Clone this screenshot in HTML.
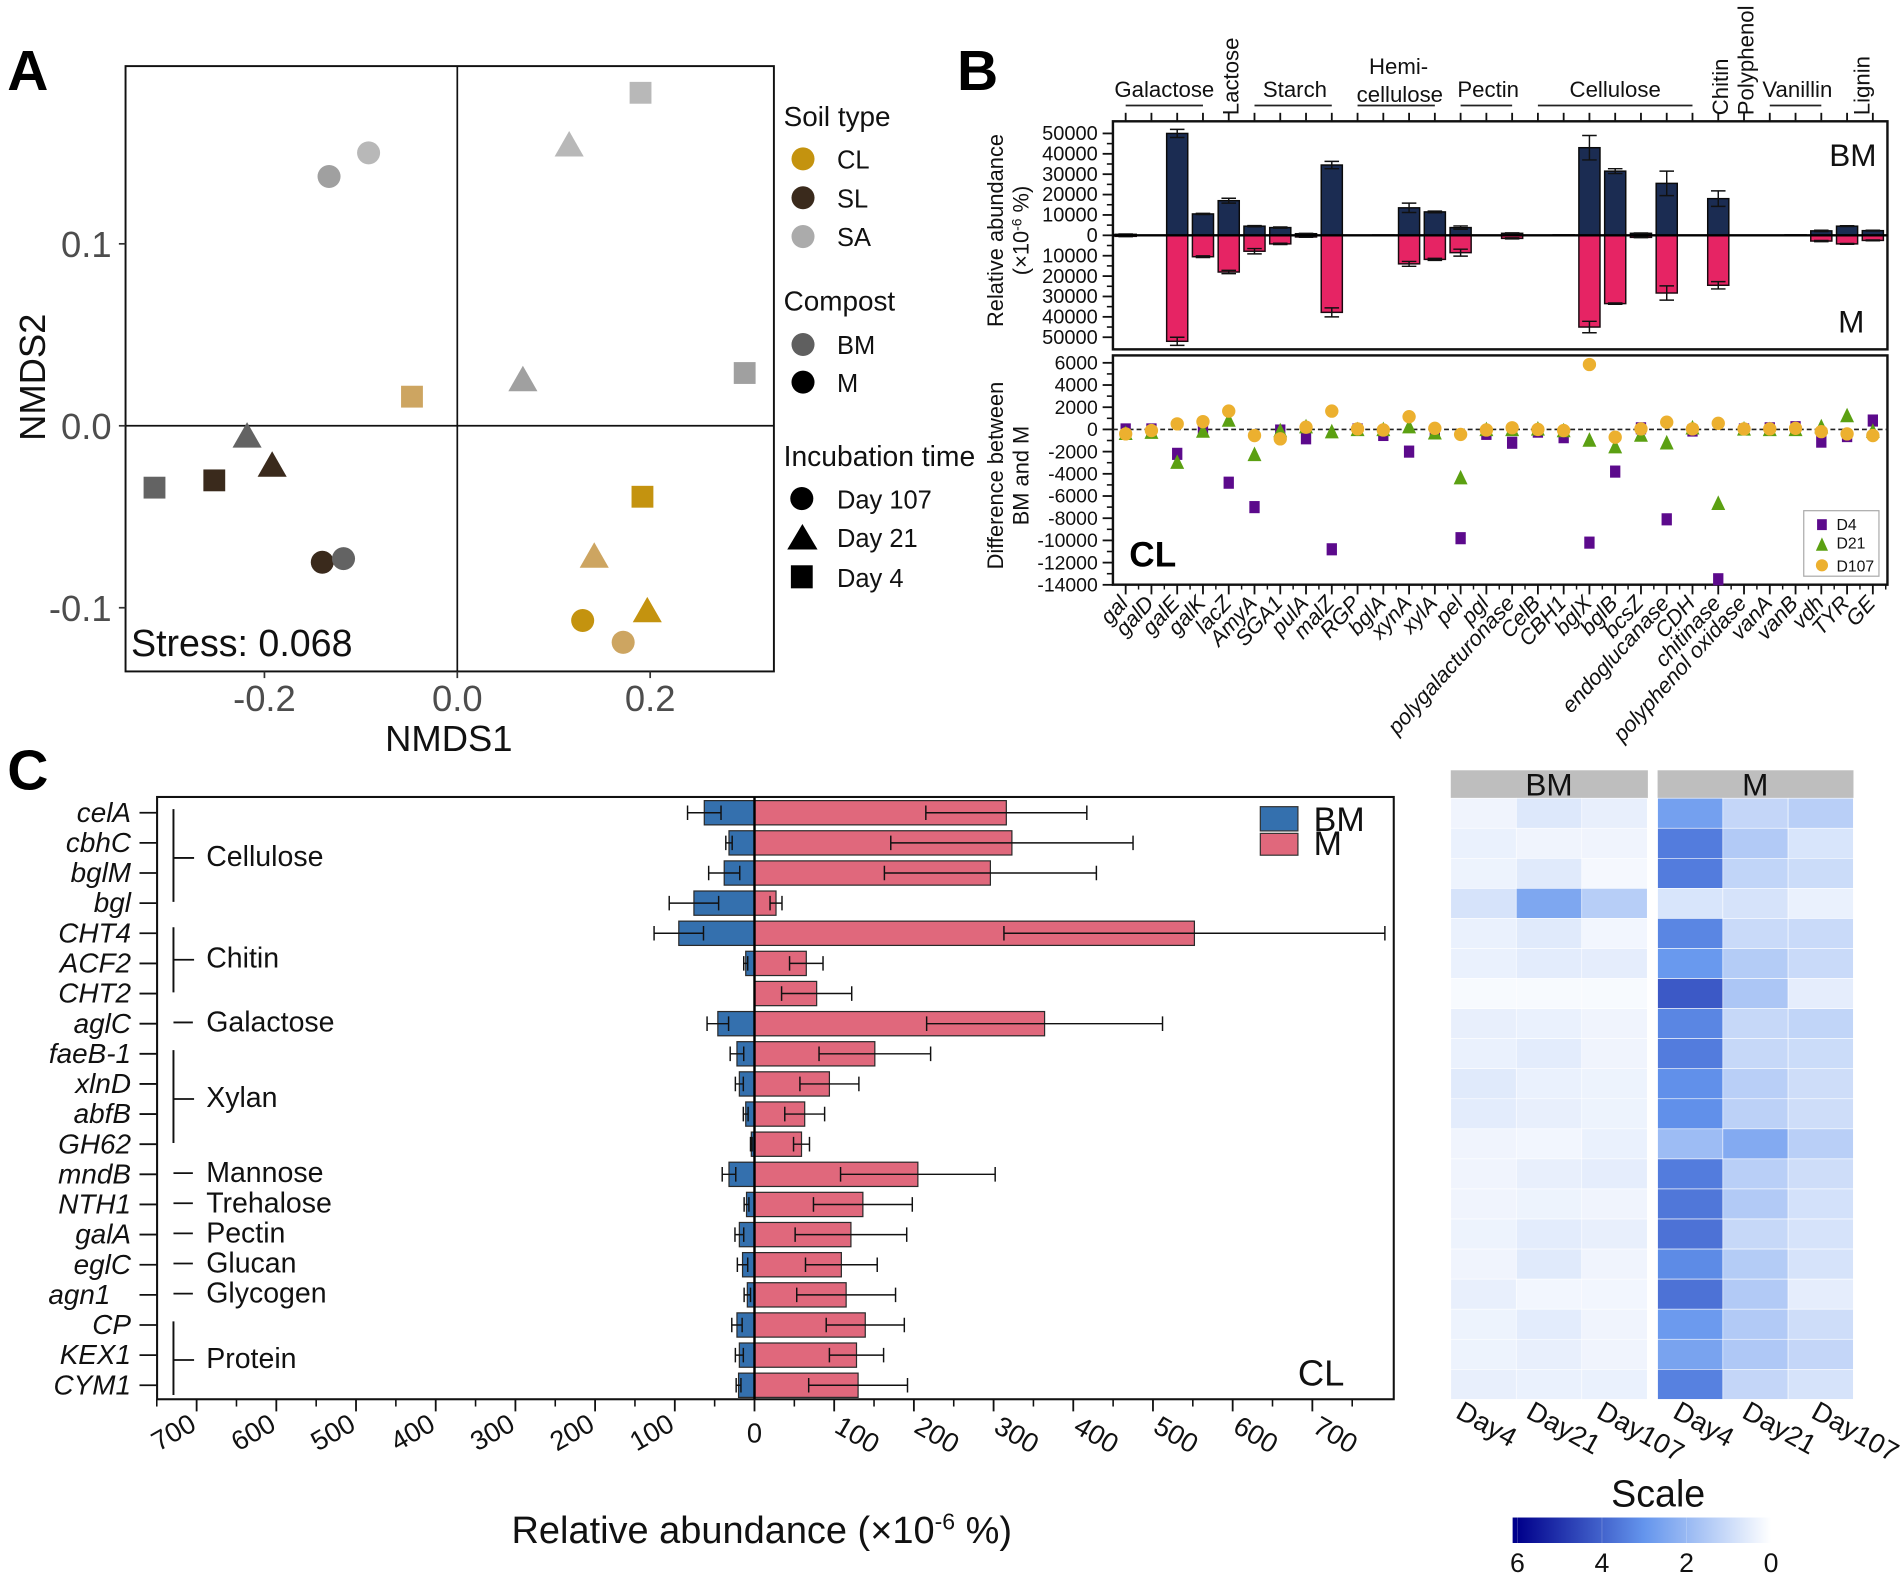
<!DOCTYPE html>
<html lang="en">
<head>
<meta charset="utf-8">
<title>Soil compost NMDS and CAZyme abundance figure</title>
<style>
html,body{margin:0;padding:0;background:#fff}
svg{display:block}
text{font-family:"Liberation Sans",Arial,sans-serif}
</style>
</head>
<body>
<svg id="fig" xmlns="http://www.w3.org/2000/svg" width="1902" height="1580" viewBox="0 0 1568 1302.5" preserveAspectRatio="none">
<defs>
<linearGradient id="scaleGrad" gradientUnits="userSpaceOnUse" x1="1251" x2="1460" y1="0" y2="0">
<stop offset="0" stop-color="#00008B"/><stop offset="0.5" stop-color="#6495ED"/><stop offset="1" stop-color="#FFFFFF"/>
</linearGradient>
</defs>
<rect x="0" y="0" width="1568" height="1302.5" fill="#fff"/>

<!-- Panel letters -->
<text x="6" y="74" font-size="47" font-weight="bold">A</text>
<text x="789" y="74" font-size="47" font-weight="bold">B</text>
<text x="6" y="651" font-size="47" font-weight="bold">C</text>

<!-- Panel A -->
<g id="panelA">
<rect x="103.5" y="54.5" width="534.5" height="499" fill="none" stroke="#111" stroke-width="1.6"/>
<text x="370" y="619" font-size="30" text-anchor="middle" fill="#111">NMDS1</text>
<text transform="translate(37,311) rotate(-90)" font-size="30" text-anchor="middle" fill="#111">NMDS2</text>
<text x="108" y="541" font-size="31" fill="#111">Stress: 0.068</text>
</g>
<g id="legendA">
<text x="646" y="104" font-size="23" fill="#111">Soil type</text>
<circle cx="662" cy="131" r="9.5" fill="#c4930f"/>
<text x="690" y="139" font-size="21" fill="#111">CL</text>
<circle cx="662" cy="163" r="9.5" fill="#3a2a1c"/>
<text x="690" y="171" font-size="21" fill="#111">SL</text>
<circle cx="662" cy="195" r="9.5" fill="#ababab"/>
<text x="690" y="203" font-size="21" fill="#111">SA</text>
<text x="646" y="256" font-size="23" fill="#111">Compost</text>
<circle cx="662" cy="284" r="9.5" fill="#5f5f5f"/>
<text x="690" y="292" font-size="21" fill="#111">BM</text>
<circle cx="662" cy="315" r="9.5" fill="#000"/>
<text x="690" y="323" font-size="21" fill="#111">M</text>
<text x="646" y="384" font-size="23.3" fill="#111">Incubation time</text>
<circle cx="661" cy="411" r="9.5" fill="#000"/>
<text x="690" y="419" font-size="21" fill="#111">Day 107</text>
<polygon points="649,453 674,453 661.5,432" fill="#000"/>
<text x="690" y="451" font-size="21" fill="#111">Day 21</text>
<rect x="652" y="466" width="18" height="19" fill="#000"/>
<text x="690" y="484" font-size="21" fill="#111">Day 4</text>
</g>

<!-- Panel B -->
<g id="panelB">
<text transform="translate(827,190) rotate(-90)" font-size="18" text-anchor="middle" fill="#111">Relative abundance</text>
<text transform="translate(848,190) rotate(-90)" font-size="18" text-anchor="middle" fill="#111">(×10<tspan dy="-6" font-size="11.5">-6</tspan><tspan dy="6"> %)</tspan></text>
<text transform="translate(827,392) rotate(-90)" font-size="18" text-anchor="middle" fill="#111">Difference between</text>
<text transform="translate(848,392) rotate(-90)" font-size="18" text-anchor="middle" fill="#111">BM and M</text>
<text x="1547" y="137" font-size="26" text-anchor="end" fill="#111">BM</text>
<text x="1537" y="274" font-size="26" text-anchor="end" fill="#111">M</text>
<text x="931" y="467" font-size="29" font-weight="bold" fill="#000">CL</text>
</g>

<!-- Panel C -->
<g id="panelC">
<text x="628" y="1272" font-size="31.3" text-anchor="middle" fill="#111">Relative abundance (×10<tspan dy="-11" font-size="19">-6</tspan><tspan dy="11"> %)</tspan></text>
<text x="1070" y="1142" font-size="30" fill="#111">CL</text>
<rect x="1039" y="665" width="31" height="20" fill="#3470ae" stroke="#333" stroke-width="1"/>
<text x="1083" y="685" font-size="28" fill="#111">BM</text>
<rect x="1039" y="687" width="31" height="18" fill="#e0687c" stroke="#333" stroke-width="1"/>
<text x="1083" y="705" font-size="28" fill="#111">M</text>
</g>

<!-- Heatmap -->
<g id="heatmap">
<rect x="1196" y="635" width="162.5" height="23" fill="#bebebe"/>
<text x="1277" y="656" font-size="26" text-anchor="middle" fill="#111">BM</text>
<rect x="1366.5" y="635" width="161.5" height="23" fill="#bebebe"/>
<text x="1447" y="656" font-size="26" text-anchor="middle" fill="#111">M</text>
<text x="1367" y="1242" font-size="31" text-anchor="middle" fill="#111">Scale</text>
<rect x="1247" y="1251" width="219" height="21" fill="url(#scaleGrad)"/>
</g>

<!-- Legend of the difference plot, placed last so it sits above the points -->
<g id="legendBTop">
<rect x="1487" y="421" width="62" height="54" fill="#fff" stroke="#aaa" stroke-width="1"/>
<rect x="1498" y="428" width="8" height="9" fill="#5c0a8c"/>
<text x="1514" y="437" font-size="13" fill="#111">D4</text>
<polygon points="1497,454 1507,454 1502,443" fill="#5ba012"/>
<text x="1514" y="452" font-size="13" fill="#111">D21</text>
<circle cx="1502" cy="466" r="5" fill="#ecb02f"/>
<text x="1514" y="471" font-size="13" fill="#111">D107</text>
</g>
</svg>

<script>
/* ---------- Panel A data ---------- */
var nmds1 = [-0.133,-0.092,0.130,0.172,-0.140,-0.118,0.116,0.068,-0.218,-0.192,0.142,0.197,0.190,0.298,-0.047,-0.314,-0.252,0.192];
var nmds2 = [0.137,0.150,-0.107,-0.119,-0.075,-0.073,0.155,0.026,-0.005,-0.021,-0.071,-0.101,0.183,0.029,0.016,-0.034,-0.030,-0.039];
var nmdsSoil = ['SA','SA','CL','CL','SL','SL','SA','SA','SL','SL','CL','CL','SA','SA','CL','SL','SL','CL'];
var nmdsCompost = ['M','BM','M','BM','M','BM','BM','M','BM','M','BM','M','BM','M','BM','BM','M','M'];
var nmdsDay = [107,107,107,107,107,107,21,21,21,21,21,21,4,4,4,4,4,4];
var nmdsXTicks = [-0.2,0,0.2];
var nmdsYTicks = [0.1,0,-0.1];

/* ---------- Panel B data ---------- */
var enzymes = ['gal','galD','galE','galK','lacZ','AmyA','SGA1','pulA','malZ','RGP','bglA','xynA','xylA','pel','pgl','polygalacturonase','CelB','CBH1','bglX','bglB','bcsZ','endoglucanase','CDH','chitinase','polyphenol oxidase','vanA','vanB','vdh','TYR','GE'];
var abundBM = [500,0,50000,10500,17000,4500,3800,800,34500,0,150,13500,11500,3800,0,1000,0,200,43000,31500,1000,25500,0,18000,0,0,200,2200,4500,2300];
var abundBMErr = [150,0,2000,300,1200,300,300,150,1800,0,0,2300,400,800,0,200,0,0,6000,1200,150,6000,0,3800,0,0,0,300,200,200];
var abundM = [500,0,52000,10500,18000,7800,4200,800,37800,0,150,14000,11800,8500,0,1500,0,200,45000,33500,1000,28300,0,24500,0,0,100,2800,4200,2500];
var abundMErr = [150,0,2000,400,800,1300,300,150,2200,0,0,1200,500,1700,0,250,0,0,2800,300,150,3500,0,1800,0,0,0,300,200,200];
var abundTicks = [50000,40000,30000,20000,10000,0,-10000,-20000,-30000,-40000,-50000];
var diffD4 = [0,0,-2200,100,-4800,-7000,-100,-800,-10800,0,-500,-2000,-100,-9800,-400,-1200,-200,-700,-10200,-3800,100,-8100,-100,-13500,0,100,200,-1100,-600,800];
var diffD21 = [-300,-200,-2900,-100,900,-2200,-50,300,-150,50,50,300,-250,-4300,50,50,100,-50,-900,-1500,-450,-1150,200,-6600,100,50,50,300,1300,-100];
var diffD107 = [-400,-100,500,700,1650,-550,-850,200,1650,50,-50,1150,100,-450,-50,150,0,-100,5850,-700,50,650,50,550,50,50,100,-200,-400,-550];
var diffTicks = [6000,4000,2000,0,-2000,-4000,-6000,-8000,-10000,-12000,-14000];
var pathwayNames = ['Galactose','Starch','Hemi-|cellulose','Pectin','Cellulose','Vanillin'];
var pathwayFirst = [0,5,9,13,16,25];
var pathwayLast = [3,8,12,15,22,27];
var rotatedPathways = ['Lactose','Chitin','Polyphenol','Lignin'];
var rotatedPathwayGene = [4,23,24,28.5];

/* ---------- Panel C data ---------- */
var genes = ['celA','cbhC','bglM','bgl','CHT4','ACF2','CHT2','aglC','faeB-1','xlnD','abfB','GH62','mndB','NTH1','galA','eglC','agn1','CP','KEX1','CYM1'];
var geneM = [316,323,296,27,552,65,78,364,151,94,63,59,205,136,121,109,115,139,128,130];
var geneMErr = [101,152,133,7.5,239,21,44,148,70,37,25,10,97,62,70,45,62,49,34,62];
var geneBM = [63,32,38,76,95,11,0,46,22,19,11,4,32,10,19,15,9,22,19,20];
var geneBMErr = [21,4,19.5,31,31,2.5,0,13.5,8.5,5,3,1,8.5,3,5.5,6.5,4,6.5,5,3];
var groupNames = ['Cellulose','Chitin','Galactose','Xylan','Mannose','Trehalose','Pectin','Glucan','Glycogen','Protein'];
var groupFirst = [0,4,7,8,12,13,14,15,16,17];
var groupLast = [3,6,7,11,12,13,14,15,16,19];
var geneAxisTicks = [700,600,500,400,300,200,100,0,100,200,300,400,500,600,700];
var geneAxisSides = [-1,-1,-1,-1,-1,-1,-1,0,1,1,1,1,1,1,1];

/* ---------- Heatmap data ---------- */
var heatDays = ['Day4','Day21','Day107'];
var heatBM = [
[0.3,0.65,0.45],[0.4,0.3,0.3],[0.35,0.6,0.2],[0.8,2.5,1.4],[0.4,0.6,0.25],
[0.4,0.55,0.5],[0.15,0.15,0.15],[0.45,0.4,0.3],[0.4,0.55,0.3],[0.6,0.4,0.35],
[0.55,0.45,0.35],[0.3,0.25,0.4],[0.3,0.45,0.5],[0.3,0.35,0.3],[0.35,0.55,0.45],
[0.3,0.6,0.3],[0.45,0.25,0.25],[0.35,0.55,0.3],[0.35,0.45,0.3],[0.45,0.4,0.4]];
var heatM = [
[2.7,1.15,1.35],[3.5,1.5,0.75],[3.5,1.2,1.0],[0.75,0.8,0.4],[3.3,1.05,1.05],
[2.9,1.45,1.05],[4.2,1.6,0.5],[3.3,1.1,1.2],[3.5,1.1,1.0],[3.1,1.35,0.95],
[3.1,1.3,0.95],[1.9,2.4,1.35],[3.5,1.35,0.95],[3.6,1.5,0.85],[3.7,1.1,0.8],
[3.2,1.45,0.8],[3.7,1.5,0.5],[2.85,1.5,0.95],[2.6,1.55,1.15],[3.4,1.15,0.8]];
var scaleTicks = [6,4,2,0];

/* ---------- Axis functions ---------- */
function xA(v){return 377+795*v;}
function yA(v){return 351-1500*v;}
function xG(i){return 928+21.24*i;}
function yT(v){return 194-v*84/50000;}
function yD(v){return 354-v*0.00915;}
function xC(v){return 622+v*0.657;}
function yC(i){return 670+i*24.84;}

var svgNS='http://www.w3.org/2000/svg';
function mk(tag,attrs,parent,txt){
  var e=document.createElementNS(svgNS,tag);
  for(var k in attrs){e.setAttribute(k,attrs[k]);}
  if(txt!==undefined){e.textContent=txt;}
  parent.appendChild(e);
  return e;
}
function ln(parent,x1,y1,x2,y2,color,w){
  return mk('line',{x1:x1,y1:y1,x2:x2,y2:y2,stroke:color,'stroke-width':w},parent);
}
function tri(cx,cy,b,h){
  return (cx-b/2)+','+(cy+h/2)+' '+(cx+b/2)+','+(cy+h/2)+' '+cx+','+(cy-h/2);
}

/* ---------- Panel A drawing ---------- */
var gA=document.getElementById('panelA');
var e;
e=ln(gA,xA(0),54.5,xA(0),553.5,'#111',1.4);


e=ln(gA,103.5,yA(0),638,yA(0),'#111',1.4);


nmdsXTicks.forEach(function(v){
  var t=ln(gA,xA(v),553.5,xA(v),559,'#333',1.4);
  
  
  var l=mk('text',{x:xA(v),y:586,'font-size':30,'text-anchor':'middle',fill:'#4d4d4d'},gA,v.toFixed(1));
  
  
});
nmdsYTicks.forEach(function(v){
  var t=ln(gA,98,yA(v),103.5,yA(v),'#333',1.4);
  
  
  var l=mk('text',{x:92,y:yA(v)+11,'font-size':30,'text-anchor':'end',fill:'#4d4d4d'},gA,v.toFixed(1));
  
  
});
function nmdsColor(soil,compost){
  if(soil==='CL'){return compost==='M'?'#c4930f':'#cda561';}
  if(soil==='SL'){return compost==='M'?'#3a2a1c':'#636363';}
  return compost==='M'?'#a0a0a0':'#b8b8b8';
}
nmds1.forEach(function(v,i){
  var cx=xA(v),cy=yA(nmds2[i]),col=nmdsColor(nmdsSoil[i],nmdsCompost[i]),p;
  if(nmdsDay[i]===107){
    p=mk('circle',{cx:cx,cy:cy,r:9.5,fill:col},gA);
  }else if(nmdsDay[i]===21){
    p=mk('polygon',{points:tri(cx,cy,24,21),fill:col},gA);
  }else{
    p=mk('rect',{x:cx-9,y:cy-9,width:18,height:18,fill:col},gA);
  }
  
  
});

/* ---------- Panel B drawing ---------- */
var gB=document.getElementById('panelB');
var L=917.5,R=1556;
e=mk('rect',{x:L,y:100,width:R-L,height:188,fill:'none',stroke:'#111','stroke-width':2},gB);


e=mk('rect',{x:L,y:293,width:R-L,height:189,fill:'none',stroke:'#111','stroke-width':2},gB);



abundTicks.forEach(function(v,k){
  var t=ln(gB,909,yT(v),L,yT(v),'#111',1.5);
  
  
  if(k<abundTicks.length-1){
    var m=ln(gB,912.5,yT(v-5000),L,yT(v-5000),'#111',1.3);
    
    
  }
  var l=mk('text',{x:905,y:yT(v)+5.5,'font-size':16.5,'text-anchor':'end',fill:'#111'},gB,String(Math.abs(v)));
  
  
});
diffTicks.forEach(function(v,k){
  var t=ln(gB,909,yD(v),L,yD(v),'#111',1.5);
  
  
  if(k<diffTicks.length-1){
    var m=ln(gB,912.5,yD(v-1000),L,yD(v-1000),'#111',1.3);
    
    
  }
  var l=mk('text',{x:905,y:yD(v)+5.5,'font-size':16,'text-anchor':'end',fill:'#111'},gB,String(v));
  
  
});

enzymes.forEach(function(name,i){
  var x=xG(i),w=8.7;
  var t=ln(gB,x,93,x,100,'#111',1.5);
  
  
  var b=ln(gB,x,482,x,490,'#111',1.5);
  
  
  var bm=ln(gB,x+10.62,482,x+10.62,486,'#111',1.2);
  
  
  var lab=mk('text',{transform:'translate('+(x+3)+',498) rotate(-48)','font-size':18,'font-style':'italic','text-anchor':'end',fill:'#111'},gB,name);
  
  

  if(abundBM[i]>0){
    var r1=mk('rect',{x:x-w,y:yT(abundBM[i]),width:2*w,height:yT(0)-yT(abundBM[i]),fill:'#1b2c52',stroke:'#0a0a0a','stroke-width':1.2},gB);
    
    
    if(abundBMErr[i]>0){
      var e1=mk('path',{d:'M'+x+' '+yT(abundBM[i]+abundBMErr[i])+'V'+yT(abundBM[i]-abundBMErr[i])+'M'+(x-6)+' '+yT(abundBM[i]+abundBMErr[i])+'h12M'+(x-6)+' '+yT(abundBM[i]-abundBMErr[i])+'h12',stroke:'#111','stroke-width':1.2,fill:'none'},gB);
      
      
    }
  }
  if(abundM[i]>0){
    var r2=mk('rect',{x:x-w,y:yT(0),width:2*w,height:yT(-abundM[i])-yT(0),fill:'#e62464',stroke:'#1a0a10','stroke-width':1.2},gB);
    
    
    if(abundMErr[i]>0){
      var e2=mk('path',{d:'M'+x+' '+yT(-abundM[i]-abundMErr[i])+'V'+yT(-abundM[i]+abundMErr[i])+'M'+(x-6)+' '+yT(-abundM[i]-abundMErr[i])+'h12M'+(x-6)+' '+yT(-abundM[i]+abundMErr[i])+'h12',stroke:'#111','stroke-width':1.2,fill:'none'},gB);
      
      
    }
  }
});
e=ln(gB,L,yT(0),R,yT(0),'#000',2);


e=mk('line',{x1:L,y1:yD(0),x2:R,y2:yD(0),stroke:'#222','stroke-width':1.3,'stroke-dasharray':'4 2.5'},gB);



enzymes.forEach(function(name,i){
  var x=xG(i);
  var s=mk('rect',{x:x-4.25,y:yD(diffD4[i])-5,width:8.5,height:10,fill:'#5c0a8c'},gB);
  
  
});
enzymes.forEach(function(name,i){
  var t=mk('polygon',{points:tri(xG(i),yD(diffD21[i]),11.5,12),fill:'#5ba012'},gB);
  
  
});
enzymes.forEach(function(name,i){
  var c=mk('circle',{cx:xG(i),cy:yD(diffD107[i]),r:5.5,fill:'#ecb02f'},gB);
  
  
});

pathwayNames.forEach(function(n,k){
  var x1=xG(pathwayFirst[k]),x2=xG(pathwayLast[k]),mid=(x1+x2)/2;
  var u=ln(gB,x1,87,x2,87,'#222',1.4);
  
  
  var parts=n.split('|');
  if(parts.length===2){
    var a=mk('text',{x:mid+2,y:61,'font-size':18.3,'text-anchor':'middle',fill:'#111'},gB,parts[0]);
    
    
    var b=mk('text',{x:mid+3,y:84,'font-size':18.3,'text-anchor':'middle',fill:'#111'},gB,parts[1]);
    
    
  }else{
    var c=mk('text',{x:mid+(k===0||k===4?0:1.5),y:80,'font-size':18.3,'text-anchor':'middle',fill:'#111'},gB,n);
    
    
  }
});
rotatedPathways.forEach(function(n,k){
  var x=xG(rotatedPathwayGene[k]);
  var t=mk('text',{transform:'translate('+(x+8)+',95) rotate(-90)','font-size':18.3,fill:'#111'},gB,n);
  
  
});

/* ---------- Panel C drawing ---------- */
var gC=document.getElementById('panelC');
var cTop=657,cBot=1153.5,cL=129.5,cR=1149;
e=mk('rect',{x:cL,y:cTop,width:cR-cL,height:cBot-cTop,fill:'none',stroke:'#111','stroke-width':1.7},gC);



geneAxisTicks.forEach(function(v,k){
  var sgn=geneAxisSides[k],pos=xC(sgn*v);
  var t=ln(gC,pos,cBot,pos,cBot+10,'#111',1.5);
  
  
  var mPos=xC(sgn===0?50:sgn*(v+50));
  var m=ln(gC,mPos,cBot,mPos,cBot+6,'#111',1.3);
  
  
  var l;
  if(sgn===0){
    l=mk('text',{x:pos,y:1189,'font-size':22.5,'text-anchor':'middle',fill:'#111'},gC,String(v));
    var m2=ln(gC,xC(-50),cBot,xC(-50),cBot+6,'#111',1.3);
    
    
  }else if(sgn<0){
    l=mk('text',{transform:'translate('+(pos+1)+',1178) rotate(-30)','font-size':22.5,'text-anchor':'end',fill:'#111'},gC,String(v));
  }else{
    l=mk('text',{transform:'translate('+(pos-1)+',1180) rotate(30)','font-size':22.5,'text-anchor':'start',fill:'#111'},gC,String(v));
  }
  
  
});

genes.forEach(function(g,i){
  var y=yC(i),h=10;
  var t=ln(gC,115,y,cL,y,'#111',1.5);
  
  
  var l=mk('text',{x:g==='agn1'?91:108,y:y+7.5,'font-size':23,'font-style':'italic','text-anchor':'end',fill:'#111'},gC,g);
  
  
  if(geneBM[i]>0){
    var b=mk('rect',{x:xC(-geneBM[i]),y:y-h,width:xC(0)-xC(-geneBM[i]),height:2*h,fill:'#3470ae',stroke:'#2a2a2a','stroke-width':1},gC);
    
    
  }
  var bb=mk('rect',{x:xC(0),y:y-h,width:xC(geneM[i])-xC(0),height:2*h,fill:'#e0687c',stroke:'#2a2a2a','stroke-width':1},gC);
  
  
  if(geneBMErr[i]>0){
    var lo=xC(-(geneBM[i]-geneBMErr[i])),hi=xC(-(geneBM[i]+geneBMErr[i]));
    var e1=mk('path',{d:'M'+lo+' '+y+'H'+hi+'M'+lo+' '+(y-6)+'v12M'+hi+' '+(y-6)+'v12',stroke:'#111','stroke-width':1.2,fill:'none'},gC);
    
    
  }
  var lo2=xC(geneM[i]-geneMErr[i]),hi2=xC(geneM[i]+geneMErr[i]);
  var e2=mk('path',{d:'M'+lo2+' '+y+'H'+hi2+'M'+lo2+' '+(y-6)+'v12M'+hi2+' '+(y-6)+'v12',stroke:'#111','stroke-width':1.2,fill:'none'},gC);
  
  
});
e=ln(gC,xC(0),cTop,xC(0),cBot,'#000',2);



groupNames.forEach(function(n,k){
  var f=groupFirst[k],la=groupLast[k],y1=yC(f),y2=yC(la),mid=(y1+y2)/2;
  if(n==='Protein'){mid+=4;}
  if(n==='Chitin'){mid-=3;}
  var ty;
  if(f===la){
    ty=ln(gC,143,y1-1,159,y1-1,'#111',1.5);
  }else{
    var v=ln(gC,143,y1-(n==='Chitin'?5:3),143,y2+(n==='Protein'?8:-1),'#111',1.6);
    
    
    ty=ln(gC,143,mid,160,mid,'#111',1.5);
  }
  
  
  var l=mk('text',{x:170,y:mid+6.5,'font-size':23.5,fill:'#111'},gC,n);
  
  
});

/* ---------- Heatmap drawing ---------- */
var gH=document.getElementById('heatmap');
function mix(a,b,t){return Math.round(a+(b-a)*t);}
function heatColor(v){
  var c;
  if(v<=3){var t=v/3;c=[mix(255,100,t),mix(255,149,t),mix(255,237,t)];}
  else{var u=(v-3)/3;c=[mix(100,0,u),mix(149,0,u),mix(237,139,u)];}
  return 'rgb('+c[0]+','+c[1]+','+c[2]+')';
}
function drawHeat(matrix,x0,cw,labelX,labelStep){
  matrix.forEach(function(row,r){
    row.forEach(function(v,c){
      var cell=mk('rect',{x:x0+c*cw,y:658+r*24.78,width:cw,height:24.78,fill:heatColor(v),stroke:'#fff','stroke-width':0.5},gH);
      
      
    });
  });
  heatDays.forEach(function(d,c){
    var l=mk('text',{transform:'translate('+(labelX+c*labelStep)+',1168) rotate(29)','font-size':22.5,fill:'#111'},gH,d);
    
    
  });
}
drawHeat(heatBM,1196,54,1199,58);
drawHeat(heatM,1366.5,53.8,1378,57);
scaleTicks.forEach(function(v){
  var x=1460-v*209/6;
  var t=ln(gH,x,1251,x,1272,'#fff',0.4);
  
  
  t.setAttribute('stroke-opacity','0.4');
  var l=mk('text',{x:x,y:1296,'font-size':22,'text-anchor':'middle',fill:'#111'},gH,String(v));
  
  
});
</script>
</body>
</html>
